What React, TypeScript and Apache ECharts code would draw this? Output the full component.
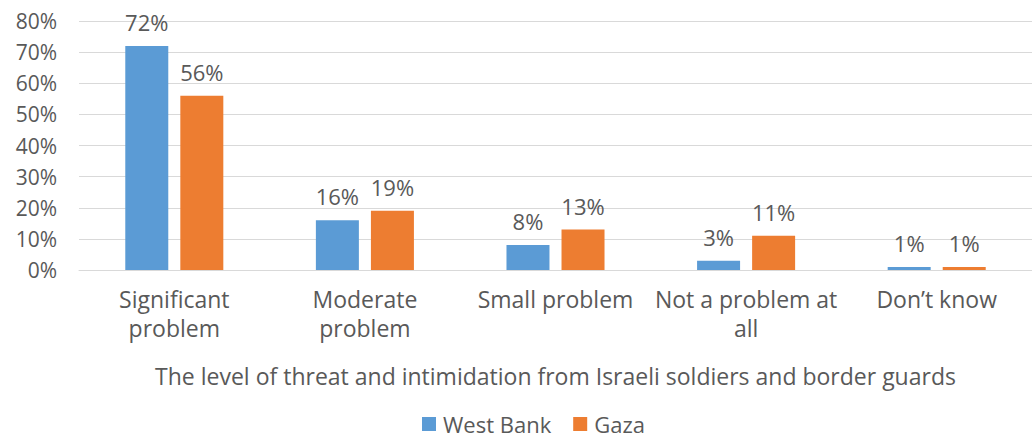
import React, { useEffect, useRef } from "react";
import * as echarts from "echarts";

const categories = [
  "Significant\nproblem",
  "Moderate\nproblem",
  "Small problem",
  "Not a problem at\nall",
  "Don\u2019t know",
];
const westBank = [72, 16, 8, 3, 1];
const gaza = [56, 19, 13, 11, 1];
const yTicks = [0, 10, 20, 30, 40, 50, 60, 70, 80];
const seriesNames = ["West Bank", "Gaza"];
const axisTitle = "The level of threat and intimidation from Israeli soldiers and border guards";

const FONT = "Open Sans";
const TEXT = "#595959";

export default function App() {
  const ref = useRef<HTMLDivElement>(null);
  useEffect(() => {
    if (!ref.current) return;
    const chart = echarts.init(ref.current, undefined, { renderer: "svg" });
    const label = {
      show: true,
      position: "top" as const,
      distance: 13,
      formatter: "{c}%",
      color: TEXT,
      fontFamily: FONT,
      fontSize: 22,
    };
    chart.setOption({
      animation: false,
      textStyle: { fontFamily: FONT, color: TEXT },
      grid: { left: 79, right: -8, top: 21, bottom: 168, containLabel: false },
      legend: {
        data: seriesNames,
        bottom: 0,
        padding: [5, 5, 3, 5],
        left: 417,
        itemWidth: 14,
        itemHeight: 14,
        itemGap: 22,
        icon: "rect",
        textStyle: { color: TEXT, fontFamily: FONT, fontSize: 22, padding: [0, 0, 0, 2] },
      },
      xAxis: {
        type: "category",
        data: categories,
        axisTick: { show: false },
        axisLine: { show: true, lineStyle: { color: "#d9d9d9" } },
        axisLabel: {
          color: TEXT,
          fontFamily: FONT,
          fontSize: 23,
          lineHeight: 29,
          margin: 14,
          interval: 0,
        },
        name: axisTitle,
        nameLocation: "middle",
        nameGap: 94,
        nameTextStyle: { color: TEXT, fontFamily: FONT, fontSize: 23 },
      },
      yAxis: {
        type: "value",
        min: yTicks[0],
        max: yTicks[yTicks.length - 1],
        interval: 10,
        axisLabel: {
          formatter: "{value}%",
          color: TEXT,
          fontFamily: FONT,
          fontSize: 21,
          margin: 22,
        },
        splitLine: { lineStyle: { color: "#d9d9d9", width: 1 } },
        axisLine: { show: false },
        axisTick: { show: false },
      },
      series: [
        {
          name: seriesNames[0],
          type: "bar",
          data: westBank,
          barWidth: 43,
          barGap: "28%",
          itemStyle: { color: "#5b9bd5" },
          label,
        },
        {
          name: seriesNames[1],
          type: "bar",
          data: gaza,
          barWidth: 43,
          itemStyle: { color: "#ed7d31" },
          label,
        },
      ],
    });
    return () => chart.dispose();
  }, []);
  return <div ref={ref} style={{ width: 1032, height: 438, position: "absolute", left: 0, top: 0 }} />;
}
